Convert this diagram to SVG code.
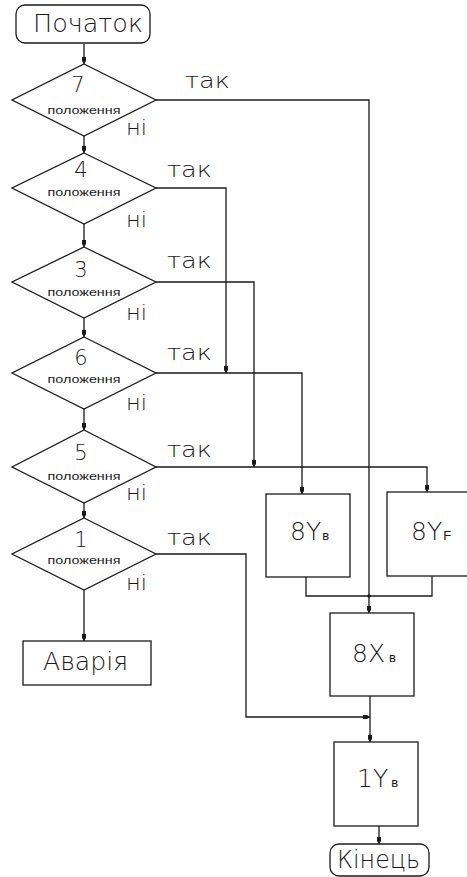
<svg xmlns="http://www.w3.org/2000/svg" width="467" height="877" viewBox="0 0 467 877">
<style>
.s{fill:none;stroke:#1a1a1a;stroke-width:1.3}
.t{font-family:"DejaVu Sans ExtraLight","DejaVu Sans","Liberation Sans",sans-serif;font-weight:200;fill:#1a1a1a}
.big{font-size:25px}
.num{font-size:21px;text-anchor:middle}
.pol{font-family:"Liberation Sans",Arial,sans-serif;font-weight:normal;font-size:11px;text-anchor:middle}
.yes{font-size:22px}
.no{font-size:21px}
.sub{font-size:13px;font-family:"Liberation Sans",Arial,sans-serif;font-weight:normal}
</style>
<defs>
<marker id="ah" markerUnits="userSpaceOnUse" markerWidth="12" markerHeight="8" viewBox="-8 -4 9 8" refX="0" refY="0" orient="auto">
<path d="M-7,-2 H-3 L0,0 L-3,2 H-7 Z" fill="#1a1a1a"/>
</marker>
</defs>
<rect width="467" height="877" fill="#fff"/>
<g id="connectors" class="s">
<path d="M84,44 V64" marker-end="url(#ah)"/>
<path d="M84,136 V153" marker-end="url(#ah)"/>
<path d="M84,224 V247" marker-end="url(#ah)"/>
<path d="M84,318 V337" marker-end="url(#ah)"/>
<path d="M84,409 V430" marker-end="url(#ah)"/>
<path d="M84,503 V518" marker-end="url(#ah)"/>
<path d="M84,590 V641" marker-end="url(#ah)"/>
<path d="M156,100 H369 V613" marker-end="url(#ah)"/>
<path d="M156,188 H226 V373" marker-end="url(#ah)"/>
<path d="M156,282 H254 V467" marker-end="url(#ah)"/>
<path d="M156,373 H302 V494" marker-end="url(#ah)"/>
<path d="M156,467 H427 V492" marker-end="url(#ah)"/>
<path d="M306,577 V596 H432 V576"/>
<path d="M156,554 H246 V717 H370" marker-end="url(#ah)"/>
<path d="M370,696 V742" marker-end="url(#ah)"/>
<path d="M379,826 V844" marker-end="url(#ah)"/>
<circle cx="369" cy="596" r="1.8" fill="#1a1a1a" stroke="none"/>
</g>
<g id="start">
<rect class="s" x="16" y="5" width="134" height="38" rx="9"/>
<text class="t big" x="33" y="32" textLength="110" lengthAdjust="spacingAndGlyphs">Початок</text>
</g>
<g id="d7">
<path class="s" d="M84,64 L156,100 L84,136 L12,100 Z"/>
<text class="t num" x="78" y="92">7</text>
<text class="t pol" x="84" y="114" textLength="73" lengthAdjust="spacingAndGlyphs">положення</text>
<text class="t no" x="126" y="135" textLength="21" lengthAdjust="spacingAndGlyphs">ні</text>
<text class="t yes" x="185" y="88" textLength="45" lengthAdjust="spacingAndGlyphs">так</text>
</g>
<g id="d4">
<path class="s" d="M84,153 L156,188 L84,224 L12,188 Z"/>
<text class="t num" x="81" y="177">4</text>
<text class="t pol" x="84" y="196" textLength="73" lengthAdjust="spacingAndGlyphs">положення</text>
<text class="t no" x="126" y="227" textLength="21" lengthAdjust="spacingAndGlyphs">ні</text>
<text class="t yes" x="167" y="177" textLength="45" lengthAdjust="spacingAndGlyphs">так</text>
</g>
<g id="d3">
<path class="s" d="M84,247 L156,282 L84,318 L12,282 Z"/>
<text class="t num" x="81" y="277">3</text>
<text class="t pol" x="84" y="296" textLength="73" lengthAdjust="spacingAndGlyphs">положення</text>
<text class="t no" x="126" y="320" textLength="21" lengthAdjust="spacingAndGlyphs">ні</text>
<text class="t yes" x="167" y="268" textLength="45" lengthAdjust="spacingAndGlyphs">так</text>
</g>
<g id="d6">
<path class="s" d="M84,337 L156,373 L84,409 L12,373 Z"/>
<text class="t num" x="81" y="365">6</text>
<text class="t pol" x="84" y="383" textLength="73" lengthAdjust="spacingAndGlyphs">положення</text>
<text class="t no" x="126" y="410" textLength="21" lengthAdjust="spacingAndGlyphs">ні</text>
<text class="t yes" x="167" y="360" textLength="45" lengthAdjust="spacingAndGlyphs">так</text>
</g>
<g id="d5">
<path class="s" d="M84,430 L156,467 L84,503 L12,467 Z"/>
<text class="t num" x="81" y="460">5</text>
<text class="t pol" x="84" y="480" textLength="73" lengthAdjust="spacingAndGlyphs">положення</text>
<text class="t no" x="126" y="500" textLength="21" lengthAdjust="spacingAndGlyphs">ні</text>
<text class="t yes" x="167" y="457" textLength="45" lengthAdjust="spacingAndGlyphs">так</text>
</g>
<g id="d1">
<path class="s" d="M84,518 L156,554 L84,590 L12,554 Z"/>
<text class="t num" x="81" y="547">1</text>
<text class="t pol" x="84" y="564" textLength="73" lengthAdjust="spacingAndGlyphs">положення</text>
<text class="t no" x="126" y="590" textLength="21" lengthAdjust="spacingAndGlyphs">ні</text>
<text class="t yes" x="167" y="545" textLength="45" lengthAdjust="spacingAndGlyphs">так</text>
</g>
<g id="avaria">
<rect class="s" x="23" y="641" width="128" height="44"/>
<text class="t big" x="43" y="670" textLength="85" lengthAdjust="spacingAndGlyphs">Аварія</text>
</g>
<g id="b8Yv">
<rect class="s" x="266" y="494" width="84" height="83"/>
<text class="t big" x="290" y="540">8Y<tspan class="sub" dx="1">в</tspan></text>
</g>
<g id="b8YF">
<rect class="s" x="387" y="492" width="90" height="84"/>
<text class="t big" x="411" y="540">8Y<tspan class="sub" dx="1">F</tspan></text>
</g>
<g id="b8Xv">
<rect class="s" x="330" y="613" width="84" height="83"/>
<text class="t big" x="352" y="662">8X<tspan class="sub" dx="4">в</tspan></text>
</g>
<g id="b1Yv">
<rect class="s" x="334" y="742" width="84" height="84"/>
<text class="t big" x="357" y="787">1Y<tspan class="sub" dx="3">в</tspan></text>
</g>
<g id="end">
<rect class="s" x="330" y="844" width="99" height="32" rx="9"/>
<text class="t big" x="337" y="868" textLength="83" lengthAdjust="spacingAndGlyphs">Кінець</text>
</g>
</svg>
